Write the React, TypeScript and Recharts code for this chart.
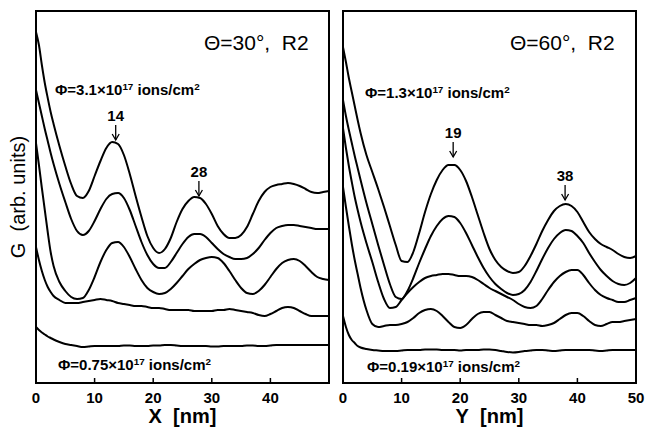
import React from 'react';
import { LineChart, Line, XAxis, YAxis, ReferenceArea, ReferenceDot } from 'recharts';

const FONT = '"Liberation Sans", Arial, Helvetica, sans-serif';

// position along the scan, nm (same grid for both panels)
const xGrid = [
  0, 0.5, 1, 1.5, 2, 2.5, 3, 4, 5, 6, 7, 8, 9, 10, 11, 12, 13, 14, 15, 16, 17, 18, 19, 20,
  21, 22, 23, 24, 25, 26, 27, 28, 29, 30, 31, 32, 33, 34, 35, 36, 37, 38, 39, 40, 41, 42,
  43, 44, 45, 46, 47, 48, 49, 50,
];

// Theta = 30 deg, G vs X (arb. units, curves offset), top = highest fluence
const left1 = [
  35.1, 33.8, 31.8, 30.0, 28.5, 27.1, 25.9, 23.7, 21.7, 19.9, 18.7, 18.5, 19.2, 20.7, 22.2, 23.5,
  24.1, 23.9, 22.8, 20.9, 18.7, 16.6, 14.7, 13.5, 13.0, 13.4, 14.5, 16.1, 17.4, 18.2, 18.6, 18.5,
  17.9, 16.9, 15.7, 14.9, 14.5, 14.5, 14.8, 15.6, 16.9, 18.2, 19.1, 19.6, 19.8, 19.9, 20.0, 19.9,
  19.7, 19.4, 19.1, 19.0, 19.1, 19.2,
];
const left2 = [
  29.3, 28.0, 26.7, 25.4, 24.2, 23.0, 21.9, 19.9, 18.1, 16.4, 15.2, 14.8, 15.2, 16.2, 17.4, 18.4,
  18.9, 19.0, 18.5, 17.3, 15.7, 14.1, 12.8, 11.9, 11.5, 11.5, 12.1, 13.0, 13.9, 14.6, 14.9, 14.9,
  14.6, 14.0, 13.4, 12.9, 12.6, 12.4, 12.4, 12.5, 12.9, 13.5, 14.3, 15.0, 15.5, 15.7, 15.8, 15.8,
  15.7, 15.6, 15.5, 15.4, 15.4, 15.4,
];
const left3 = [
  24.0, 21.8, 19.5, 17.3, 15.1, 13.1, 11.7, 10.1, 9.2, 8.6, 8.4, 8.5, 9.3, 10.6, 12.1, 13.3,
  14.0, 14.1, 13.6, 12.6, 11.4, 10.3, 9.5, 9.1, 8.9, 9.0, 9.4, 10.0, 10.7, 11.4, 11.9, 12.3,
  12.5, 12.6, 12.5, 12.0, 11.2, 10.3, 9.5, 9.0, 8.9, 9.2, 9.8, 10.6, 11.4, 12.0, 12.3, 12.4,
  12.2, 11.7, 11.1, 10.6, 10.4, 10.3,
];
const left4 = [
  13.6, 12.3, 11.2, 10.3, 9.6, 9.1, 8.7, 8.3, 8.0, 8.0, 8.0, 8.1, 8.2, 8.3, 8.4, 8.3,
  8.2, 8.0, 7.9, 7.8, 7.7, 7.7, 7.6, 7.5, 7.5, 7.4, 7.3, 7.3, 7.3, 7.3, 7.2, 7.2,
  7.2, 7.2, 7.3, 7.3, 7.4, 7.3, 7.2, 7.1, 7.0, 6.8, 6.7, 6.9, 7.2, 7.5, 7.6, 7.5,
  7.2, 6.9, 6.7, 6.7, 6.7, 6.7,
];
const left5 = [
  5.6, 5.3, 5.05, 4.85, 4.65, 4.5, 4.35, 4.1, 3.9, 3.8, 3.7, 3.6, 3.65, 3.7, 3.7, 3.7,
  3.7, 3.7, 3.75, 3.75, 3.7, 3.7, 3.7, 3.75, 3.75, 3.8, 3.8, 3.75, 3.7, 3.7, 3.7, 3.7,
  3.7, 3.65, 3.65, 3.7, 3.7, 3.7, 3.7, 3.75, 3.75, 3.7, 3.7, 3.75, 3.8, 3.8, 3.8, 3.8,
  3.8, 3.8, 3.8, 3.8, 3.8, 3.8,
];

// Theta = 60 deg, G vs Y
const right1 = [
  33.6, 32.1, 30.5, 29.1, 27.7, 26.3, 25.0, 22.8, 21.1, 19.4, 17.6, 15.7, 13.8, 12.2, 12.1, 13.1,
  15.0, 17.1, 18.9, 20.3, 21.3, 21.8, 21.8, 21.3, 20.2, 18.6, 16.8, 15.0, 13.4, 12.3, 11.6, 11.2,
  11.0, 11.1, 11.7, 12.7, 13.9, 15.2, 16.3, 17.2, 17.7, 17.9, 17.7, 17.1, 16.1, 15.1, 14.4, 13.9,
  13.6, 13.3, 12.9, 12.6, 12.5, 12.7,
];
const right2 = [
  28.3, 26.7, 25.3, 24.0, 22.7, 21.5, 20.3, 18.0, 15.9, 13.8, 11.8, 9.9, 8.6, 8.4, 9.2, 10.5,
  12.0, 13.4, 14.7, 15.7, 16.4, 16.7, 16.6, 16.0, 15.0, 13.8, 12.6, 11.5, 10.6, 9.9, 9.4, 9.0,
  8.8, 8.9, 9.3, 10.1, 11.2, 12.4, 13.5, 14.4, 15.0, 15.3, 15.2, 14.7, 14.0, 13.0, 12.1, 11.3,
  10.7, 10.2, 9.9, 9.8, 10.0, 10.5,
];
const right3 = [
  25.5, 23.5, 21.7, 20.1, 18.6, 17.3, 16.1, 14.0, 12.1, 10.1, 8.4, 7.5, 7.6, 8.3, 9.0, 9.6,
  10.1, 10.5, 10.7, 10.8, 10.9, 10.9, 10.8, 10.7, 10.7, 10.6, 10.3, 9.9, 9.5, 9.2, 8.9, 8.6,
  8.3, 7.9, 7.6, 7.5, 7.7, 8.4, 9.3, 10.1, 10.7, 11.1, 11.3, 11.3, 10.8, 10.0, 9.3, 8.8,
  8.5, 8.3, 8.1, 8.1, 8.3, 8.5,
];
const right4 = [
  19.6, 17.6, 15.7, 13.9, 12.3, 10.9, 9.5, 7.3, 5.9, 5.6, 5.7, 5.8, 5.8, 5.9, 6.1, 6.5,
  7.0, 7.3, 7.4, 7.2, 6.7, 6.1, 5.6, 5.5, 5.8, 6.4, 6.9, 7.1, 7.1, 6.8, 6.5, 6.2,
  6.1, 6.0, 5.9, 5.8, 5.8, 5.7, 5.8, 6.0, 6.4, 6.8, 7.0, 7.0, 6.7, 6.2, 5.8, 5.7,
  5.9, 6.1, 6.1, 6.2, 6.3, 6.4,
];
const right5 = [
  6.7, 5.6, 4.8, 4.3, 4.0, 3.7, 3.55, 3.4, 3.3, 3.25, 3.2, 3.2, 3.2, 3.25, 3.3, 3.3,
  3.3, 3.35, 3.35, 3.35, 3.3, 3.3, 3.3, 3.25, 3.3, 3.3, 3.3, 3.35, 3.35, 3.3, 3.2, 3.1,
  3.05, 3.1, 3.2, 3.25, 3.3, 3.3, 3.25, 3.2, 3.25, 3.3, 3.3, 3.3, 3.3, 3.3, 3.25, 3.2,
  3.25, 3.3, 3.3, 3.3, 3.3, 3.3,
];

// arrows over the marked peaks: x of arrow, height of its tip, label
const leftPeaks = [
  { x: 13.6, y: 24.3, label: '14' },
  { x: 27.8, y: 18.7, label: '28' },
];
const rightPeaks = [
  { x: 18.8, y: 22.6, label: '19' },
  { x: 37.9, y: 18.3, label: '38' },
];

const leftTicks = [0, 10, 20, 30, 40];
const rightTicks = [0, 10, 20, 30, 40, 50];
const innerTicks = [10, 20, 30, 40];

const Y_MAX = 37.2;

function buildRows(curves: number[][]) {
  return xGrid.map((x, i) => {
    const row: any = { x };
    curves.forEach((c, k) => {
      row['c' + k] = c[i];
    });
    return row;
  });
}

function PeakMark(props: any) {
  const { cx, cy, text } = props;
  if (cx == null || cy == null) return null;
  return (
    <g>
      <text x={cx} y={cy - 19} textAnchor="middle" fontSize={15} fontWeight="bold" fontFamily={FONT} fill="#000">
        {text}
      </text>
      <line x1={cx} y1={cy - 15} x2={cx} y2={cy} stroke="#000" strokeWidth={1.3} />
      <path d={`M${cx - 3.5},${cy - 6} L${cx},${cy} L${cx + 3.5},${cy - 6}`} fill="none" stroke="#000" strokeWidth={1.3} />
    </g>
  );
}

function Panel({ curves, width, margin, ticks, title, peaks, yLabel }: any) {
  const data = buildRows(curves);
  return (
    <LineChart width={width} height={432} data={data} margin={margin}>
      <XAxis
        xAxisId="top"
        orientation="top"
        dataKey="x"
        type="number"
        domain={[0, 50]}
        ticks={innerTicks}
        height={1}
        tick={false}
        axisLine={false}
        tickSize={-5}
        tickLine={{ stroke: '#000', strokeWidth: 1.5 }}
      />
      <XAxis
        dataKey="x"
        type="number"
        domain={[0, 50]}
        ticks={ticks}
        interval={0}
        height={40}
        axisLine={false}
        tickSize={-5}
        tickMargin={14}
        tickLine={{ stroke: '#000', strokeWidth: 1.5 }}
        tick={{ fill: '#000', fontSize: 15, fontWeight: 'bold', fontFamily: FONT }}
        label={{ value: title, position: 'insideBottom', offset: 0, fill: '#000', fontSize: 20, fontWeight: 'bold', fontFamily: FONT }}
      />
      {yLabel ? (
        <YAxis
          type="number"
          domain={[0, Y_MAX]}
          width={36}
          tick={false}
          tickLine={false}
          axisLine={false}
          label={{ value: yLabel, angle: -90, position: 'center', fill: '#000', fontSize: 20, fontFamily: FONT }}
        />
      ) : (
        <YAxis type="number" domain={[0, Y_MAX]} hide />
      )}
      <ReferenceArea x1={0} x2={50} y1={0} y2={Y_MAX} fill="none" fillOpacity={0} stroke="#000" strokeWidth={2} />
      {curves.map((_: number[], k: number) => (
        <Line
          key={k}
          dataKey={'c' + k}
          type="monotone"
          stroke="#000"
          strokeWidth={2}
          dot={false}
          isAnimationActive={false}
        />
      ))}
      {peaks.map((p: any) => (
        <ReferenceDot
          key={p.label}
          x={p.x}
          y={p.y}
          r={0}
          shape={(s: any) => <PeakMark cx={s.cx} cy={s.cy} text={p.label} />}
        />
      ))}
    </LineChart>
  );
}

const supStyle: React.CSSProperties = {
  fontSize: '0.66em',
  verticalAlign: 'baseline',
  position: 'relative',
  top: '-0.5em',
};

function Note({ left, top, size, bold, children }: any) {
  return (
    <div
      style={{
        position: 'absolute',
        left,
        top,
        fontSize: size,
        fontWeight: bold ? 'bold' : 'normal',
        lineHeight: 1,
        whiteSpace: 'pre',
        fontFamily: FONT,
        color: '#000',
      }}
    >
      {children}
    </div>
  );
}

export default function App() {
  return (
    <div style={{ position: 'absolute', left: 0, top: 0, width: 646, height: 432, background: '#fff', fontFamily: FONT }}>
      <div style={{ position: 'absolute', left: 0, top: 0 }}>
        <Panel
          curves={[left1, left2, left3, left4, left5]}
          width={335}
          margin={{ top: 10, right: 6, bottom: 9, left: 0 }}
          ticks={leftTicks}
          title={'X\u00a0 [nm]'}
          peaks={leftPeaks}
          yLabel={'G\u00a0 (arb. units)'}
        />
      </div>
      <div style={{ position: 'absolute', left: 330, top: 0 }}>
        <Panel
          curves={[right1, right2, right3, right4, right5]}
          width={316}
          margin={{ top: 10, right: 10, bottom: 9, left: 13 }}
          ticks={rightTicks}
          title={'Y\u00a0 [nm]'}
          peaks={rightPeaks}
        />
      </div>
      <Note left={204} top={32} size={21}>{'Θ=30°,  R2'}</Note>
      <Note left={510} top={32} size={21}>{'Θ=60°,  R2'}</Note>
      <Note left={55} top={82} size={15} bold>
        Φ=3.1×10<span style={supStyle}>17</span> ions/cm<span style={supStyle}>2</span>
      </Note>
      <Note left={58} top={357} size={15} bold>
        Φ=0.75×10<span style={supStyle}>17</span> ions/cm<span style={supStyle}>2</span>
      </Note>
      <Note left={365} top={85} size={15} bold>
        Φ=1.3×10<span style={supStyle}>17</span> ions/cm<span style={supStyle}>2</span>
      </Note>
      <Note left={367} top={359} size={15} bold>
        Φ=0.19×10<span style={supStyle}>17</span> ions/cm<span style={supStyle}>2</span>
      </Note>
    </div>
  );
}
